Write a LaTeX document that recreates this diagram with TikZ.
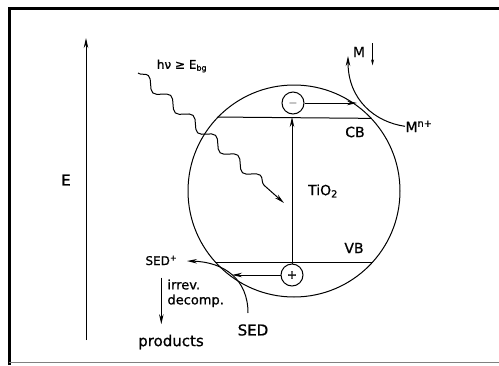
\documentclass[tikz,border=0pt]{standalone}
\usepackage{fontspec}
\setmainfont{DejaVu Sans}[FakeBold=0.8]
\usetikzlibrary{arrows.meta,decorations.pathmorphing}

\begin{document}
\begin{tikzpicture}[x=1pt,y=-1pt,line width=1pt]
\tikzset{lab/.style={font=\fontsize{14}{15}\selectfont,inner sep=0pt},
         arr/.style={-{Stealth[length=10pt,width=4.5pt]}},
         charge/.style={draw,circle,minimum size=22pt,inner sep=0pt,font=\fontsize{12}{12}\selectfont}}
\useasboundingbox (0,0) rectangle (499,365);

% frame
\draw[line width=3pt] (9,365) -- (9,8) -- (499,8);
\draw[gray,line width=1pt] (9,362) -- (499,362);

% energy axis
\coordinate (ebot) at (86,340);
\coordinate (etop) at (86,38);
\draw[arr] (ebot) -- (etop);
\node[lab,font=\fontsize{15}{15}\selectfont] (E) at (66,180) {E};

% the particle with its bands
\node[draw,circle,minimum size=212pt,inner sep=0pt] (part) at (294,191) {};
\coordinate (cbL) at (part.136.5);
\coordinate (cbR) at (part.43.5);
\coordinate (vbL) at (part.-138);
\coordinate (vbR) at (part.-42);
\draw (cbL) -- (cbR);
\draw (vbL) -- (vbR);
\node[lab] (cb) at (355,132) {CB};
\node[lab] (vb) at (354,248) {VB};
\node[lab] (tio) at (323,191) {TiO\textsubscript{2}};

% electron and hole
\node[charge] (minus) at (293,103) {$-$};
\node[charge] (plus) at (292,275) {+};
\draw[arr] (plus.north) -- (plus.north |- cbL);

% light
\node[lab,font=\fontsize{12}{12}\selectfont] (hv) at (182,66) {hν ≥ E\textsubscript{bg}};
\coordinate (hvs) at (138,73);
\coordinate (hve) at (284,203);
\draw[arr,decorate,decoration={snake,segment length=30pt,amplitude=5pt,post length=14pt}] (hvs) -- (hve);

% reduction of the metal ions
\node[lab,anchor=base west] (mn) at (405,132) {M\textsuperscript{n+}};
\coordinate (mout) at (348,56);
\draw[arr] (mn.west) .. controls (375,122) and (348,100) .. (mout);
\coordinate (mhit) at (357,103);
\draw[arr] (minus.east) -- (mhit);
\node[lab] (m) at (359,52) {M};
\draw[-{Stealth[length=6pt,width=3pt]},line width=0.8pt] (m.north east) ++(7,-3) -- ++(0,22);

% oxidation of the electron donor
\node[lab,font=\fontsize{15}{15}\selectfont] (sed) at (253,330) {SED};
\node[lab,font=\fontsize{12}{12}\selectfont,anchor=base west] (sedp) at (145,265) {SED\textsuperscript{+}};
\coordinate (sedtop) at (248,313);
\coordinate (sedend) at (187,261);
\draw[arr] (sedtop) .. controls (248,280) and (225,262) .. (sedend);
\coordinate (phit) at (232,275);
\draw[arr] (plus.west) -- (phit);

% decomposition
\node[lab,font=\fontsize{15}{15}\selectfont] (prod) at (171,342) {products};
\node[lab,font=\fontsize{13}{15}\selectfont,anchor=north west,align=left] (irr) at (167,279) {irrev.\\decomp.};
\draw[arr] ([yshift=-12pt]sedp.south) -- ([yshift=10pt]sedp.south |- prod.north);
\end{tikzpicture}
\end{document}
